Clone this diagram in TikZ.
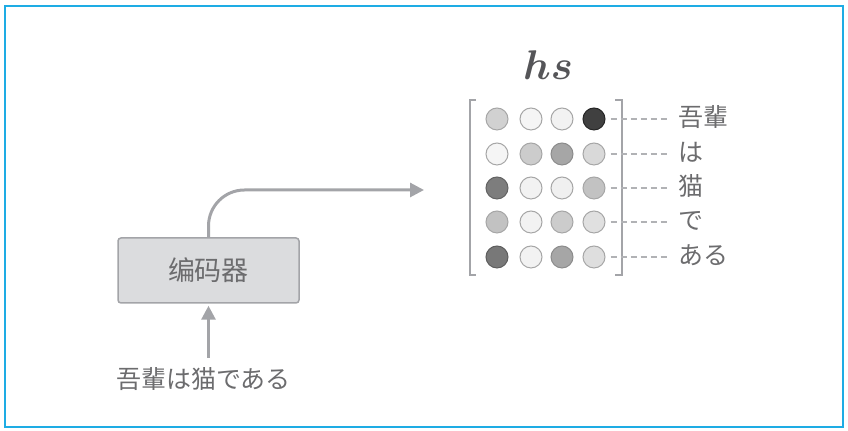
\documentclass[tikz,border=0pt]{standalone}
\usepackage{amsmath}
\usepackage{fontspec}
\newfontfamily\jpfont{Noto Sans CJK JP}
\newfontfamily\scfont{Noto Sans CJK SC}
\usetikzlibrary{arrows.meta}

\definecolor{framecol}{RGB}{30,172,228}
\definecolor{linecol}{RGB}{163,164,168}
\definecolor{boxfill}{RGB}{219,220,222}
\definecolor{textcol}{RGB}{108,108,110}
\definecolor{hscol}{RGB}{85,85,88}

\tikzset{
	flow/.style={draw=linecol, line width=1.5pt, -{Triangle[length=7pt,width=7pt]}},
	encbox/.style={draw=linecol, fill=boxfill, line width=0.75pt, rounded corners=1.5pt,
		minimum width=90.5pt, minimum height=32.5pt, text=textcol,
		font=\scfont\fontsize{13.5}{16}\selectfont},
	cell/.style={circle, minimum size=11pt, inner sep=0pt, line width=0.5pt},
	word/.style={text=textcol, font=\jpfont\fontsize{12.5}{15}\selectfont,
		text height=0.83em, text depth=0.07em, inner sep=2pt},
	guide/.style={draw=linecol!85, line width=0.6pt, dash pattern=on 3pt off 2pt},
	brack/.style={draw=linecol, line width=0.75pt},
}

\begin{document}
\begin{tikzpicture}[x=0.5pt, y=-0.5pt]

% frame %{{{2

	\useasboundingbox (0,0) rectangle (848,431);
	\draw[framecol, line width=0.75pt] (5,6) rectangle (843,427);

% encoder %{{{2

	\node[encbox] (enc) at (208.5,270.5) {编码器};
	\node[word] (inp) at (203.5,381) {吾輩は猫である};
	\coordinate (hsin) at (424,190);

	\draw[flow, shorten <=5pt, shorten >=1pt] (enc.south |- inp.north) -- (enc.south);
	\draw[flow, rounded corners=18pt] (enc.north) |- (hsin);

% hidden states %{{{2

	\node[text=hscol, font=\fontsize{20.74}{24}\selectfont] (hs) at (548,65) {$\boldsymbol{hs}$};

	\foreach \r/\y/\la/\lb/\lc/\ld in {1/119/18/4/5/75, 2/154/4/20/35/15,
		3/188/51/5/6/24, 4/222/24/5/20/12, 5/257/53/5/35/13} {
		\foreach \c/\x/\g in {1/497/\la, 2/531/\lb, 3/562/\lc, 4/594/\ld} {
			\pgfmathtruncatemacro\e{max(\g+10,35)}
			\node[cell, fill=black!\g, draw=black!\e] (c\r\c) at (\x,\y) {};
		}
	}

% brackets %{{{2

	\draw[brack] (476,100) -- (470,100) -- (470,275) -- (476,275);
	\draw[brack] (615,100) -- (622,100) -- (622,275) -- (615,275);

% words %{{{2

	\foreach \r/\y/\w in {1/119/吾輩, 2/154/は, 3/188/猫, 4/222/で, 5/257/ある} {
		\node[word, anchor=west] (w\r) at (674,\y) {\w};
		\draw[guide, shorten <=2.5pt, shorten >=3pt] (c\r4.east) -- (w\r.west);
	}

% closing %{{{2

\end{tikzpicture}
\end{document}
